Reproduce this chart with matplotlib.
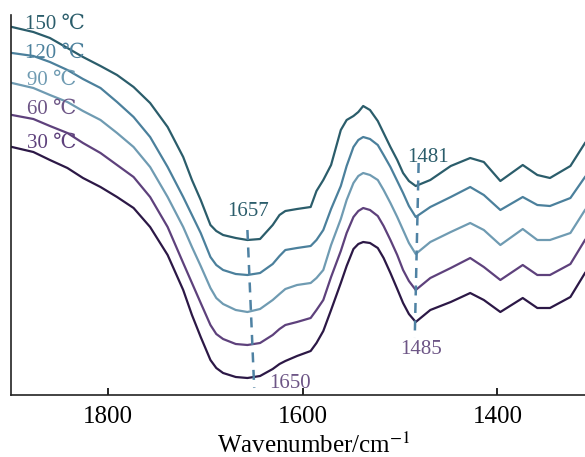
import matplotlib
matplotlib.use("Agg")
import matplotlib.pyplot as plt

plt.rcParams['font.family'] = ['Liberation Serif', 'DejaVu Serif', 'DejaVu Sans']
plt.rcParams['mathtext.fontset'] = 'stix'

# Wavenumber grid (cm^-1)
wavenumber = [1899, 1877, 1860, 1842, 1826, 1808, 1791, 1774, 1757, 1739,
              1723, 1714, 1705, 1695, 1689, 1682, 1669, 1657, 1644, 1631,
              1624, 1618, 1606, 1592, 1586, 1579, 1571, 1561, 1555, 1548,
              1543, 1538, 1531, 1523, 1517, 1510, 1503, 1497, 1491, 1484,
              1469, 1448, 1428, 1414, 1397, 1374, 1359, 1346, 1325, 1310]

# Stacked spectra (arbitrary units, offset)
t150 = [3.68, 3.63, 3.57, 3.47, 3.38, 3.29, 3.20, 3.08, 2.92, 2.68,
        2.38, 2.15, 1.95, 1.70, 1.64, 1.60, 1.57, 1.55, 1.56, 1.70,
        1.80, 1.84, 1.86, 1.88, 2.04, 2.15, 2.30, 2.65, 2.75, 2.79,
        2.83, 2.89, 2.85, 2.74, 2.62, 2.48, 2.35, 2.22, 2.14, 2.09,
        2.15, 2.29, 2.37, 2.33, 2.14, 2.30, 2.20, 2.17, 2.29, 2.52]
t120 = [3.42, 3.39, 3.33, 3.25, 3.16, 3.07, 2.93, 2.78, 2.58, 2.28,
        1.98, 1.80, 1.62, 1.38, 1.30, 1.25, 1.21, 1.20, 1.22, 1.31,
        1.39, 1.45, 1.47, 1.49, 1.55, 1.65, 1.86, 2.09, 2.29, 2.48,
        2.55, 2.58, 2.56, 2.50, 2.40, 2.28, 2.14, 2.02, 1.89, 1.78,
        1.88, 1.98, 2.08, 2.00, 1.85, 1.98, 1.90, 1.89, 1.97, 2.18]
t90 = [3.12, 3.07, 3.00, 2.93, 2.84, 2.75, 2.62, 2.48, 2.28, 1.98,
       1.68, 1.48, 1.29, 1.07, 0.97, 0.91, 0.85, 0.83, 0.86, 0.95,
       1.01, 1.06, 1.10, 1.12, 1.17, 1.25, 1.50, 1.76, 1.95, 2.12,
       2.19, 2.22, 2.20, 2.15, 2.05, 1.92, 1.78, 1.65, 1.52, 1.41,
       1.53, 1.63, 1.72, 1.65, 1.50, 1.66, 1.55, 1.55, 1.62, 1.85]
t60 = [2.80, 2.76, 2.69, 2.62, 2.52, 2.42, 2.30, 2.18, 1.98, 1.68,
       1.32, 1.12, 0.92, 0.70, 0.61, 0.56, 0.51, 0.50, 0.52, 0.60,
       0.66, 0.70, 0.73, 0.77, 0.85, 0.95, 1.18, 1.44, 1.62, 1.78,
       1.84, 1.87, 1.85, 1.79, 1.69, 1.55, 1.40, 1.25, 1.14, 1.05,
       1.17, 1.27, 1.37, 1.28, 1.15, 1.30, 1.20, 1.20, 1.31, 1.55]
t30 = [2.48, 2.43, 2.35, 2.27, 2.17, 2.08, 1.98, 1.87, 1.68, 1.40,
       1.05, 0.80, 0.58, 0.35, 0.27, 0.22, 0.18, 0.17, 0.19, 0.26,
       0.31, 0.34, 0.39, 0.44, 0.52, 0.64, 0.85, 1.12, 1.29, 1.46,
       1.51, 1.53, 1.52, 1.47, 1.37, 1.22, 1.06, 0.92, 0.81, 0.73,
       0.85, 0.93, 1.02, 0.95, 0.83, 0.97, 0.87, 0.87, 0.98, 1.22]

series = [t150, t120, t90, t60, t30]
labels = ['150 ℃', '120 ℃', '90 ℃', '60 ℃', '30 ℃']
line_colors = ['#2b5d6b', '#4b809c', '#6f9bb2', '#5e417c', '#2c1846']
text_colors = ['#2b5d6b', '#4b809c', '#6f9bb2', '#6d5586', '#5e417c']
label_x = [1886, 1886, 1884, 1884, 1884]
label_y = [3.71, 3.42, 3.15, 2.86, 2.52]

# Peak markers
peak_top_labels = ['1657', '1481']
peak_bottom_labels = ['1650', '1485']
peak_top_wn = [1657, 1481]
peak_bottom_wn = [1650, 1485]

fig = plt.figure(figsize=(5.85, 4.57), dpi=100)
ax = fig.add_axes([11/585, 62/457, 574/585, 380/457])

for ys, c in zip(series, line_colors):
    ax.plot(wavenumber, ys, color=c, lw=1.6, solid_joinstyle='round')

for lab, x, y, c in zip(labels, label_x, label_y, text_colors):
    ax.text(x, y, lab, color=c, fontsize=15, ha='left', va='center')

dash_color = '#4f82a3'
ax.plot([peak_top_wn[0], peak_bottom_wn[0]], [1.65, 0.07], ls=(0, (4, 3)),
        color=dash_color, lw=1.8)
ax.plot([peak_top_wn[1], peak_bottom_wn[1]], [2.32, 0.57], ls=(0, (4, 3)),
        color=dash_color, lw=1.8)

ax.text(1656, 1.84, peak_top_labels[0], color='#2b5d6b', fontsize=15, ha='center', va='center')
ax.text(1613, 0.11, peak_bottom_labels[0], color='#6d5586', fontsize=15, ha='center', va='center')
ax.text(1471, 2.38, peak_top_labels[1], color='#2b5d6b', fontsize=15, ha='center', va='center')
ax.text(1479, 0.45, peak_bottom_labels[1], color='#6d5586', fontsize=15, ha='center', va='center')

ax.set_xlim(1900, 1310)
ax.set_ylim(0, 3.80)
ax.set_xticks([1800, 1600, 1400])
ax.set_xticklabels(['1800', '1600', '1400'])
ax.set_yticks([])
ax.tick_params(axis='x', direction='in', length=5, width=1.2, pad=8, labelsize=18)
for s in ['top', 'right']:
    ax.spines[s].set_visible(False)
for s in ['left', 'bottom']:
    ax.spines[s].set_linewidth(1.2)
    ax.spines[s].set_color('#222222')

ax.set_xlabel('Wavenumber/cm$^{-1}$', fontsize=18, va='top')
ax.xaxis.set_label_coords(0.528, -0.100)

fig.savefig('out.png', dpi=100)
